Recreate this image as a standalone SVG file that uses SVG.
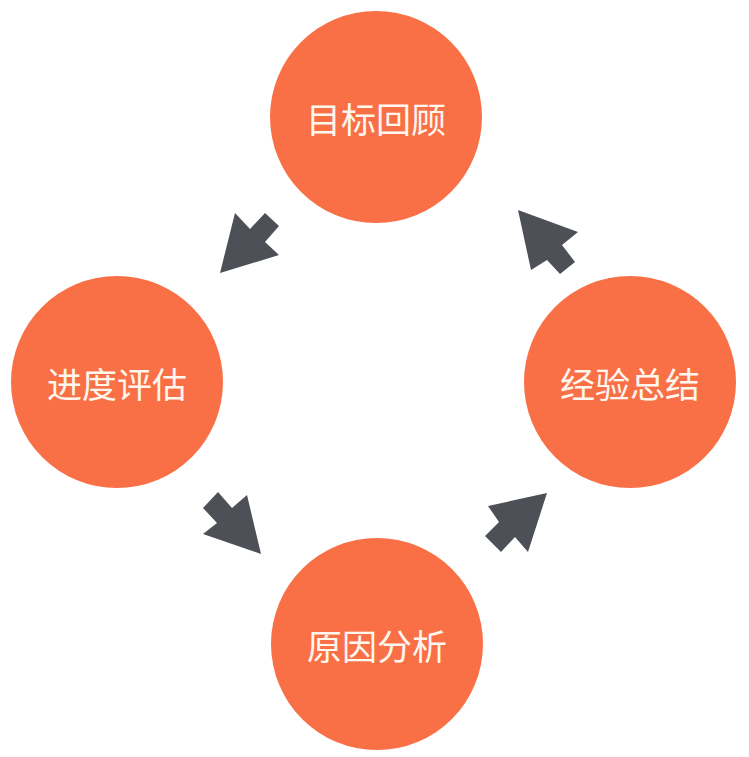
<svg xmlns="http://www.w3.org/2000/svg" width="749" height="757" viewBox="0 0 749 757">
<style>
.node circle{fill:#F97046}
.node text{fill:#FFF6EE;font-family:"Noto Sans CJK SC","Noto Sans CJK JP",sans-serif;font-size:35px;text-anchor:middle;dominant-baseline:central}
.conn polygon{fill:#4E5058}
</style>
<rect width="749" height="757" fill="#FFFFFF"/>
<g id="n-target" class="node"><circle cx="376" cy="117" r="106"/><text x="376" y="117">目标回顾</text></g>
<g id="n-progress" class="node"><circle cx="117" cy="382" r="106"/><text x="117" y="382">进度评估</text></g>
<g id="n-experience" class="node"><circle cx="630" cy="382" r="106"/><text x="630" y="382">经验总结</text></g>
<g id="n-cause" class="node"><circle cx="377" cy="644" r="106"/><text x="377" y="644">原因分析</text></g>
<g id="connectors" class="conn">
<polygon points="220,273 235,213 250,229 265,213 279,226 265,242 279,255"/>
<polygon points="261,554 247,495 232,508 218,492 203,508 217,523 203,534"/>
<polygon points="547,493 528,552 515,537 501,552 485,536 499,522 488,506"/>
<polygon points="518,210 578,232 562,245 575,262 560,274 547,260 531,270"/>
</g>
</svg>
